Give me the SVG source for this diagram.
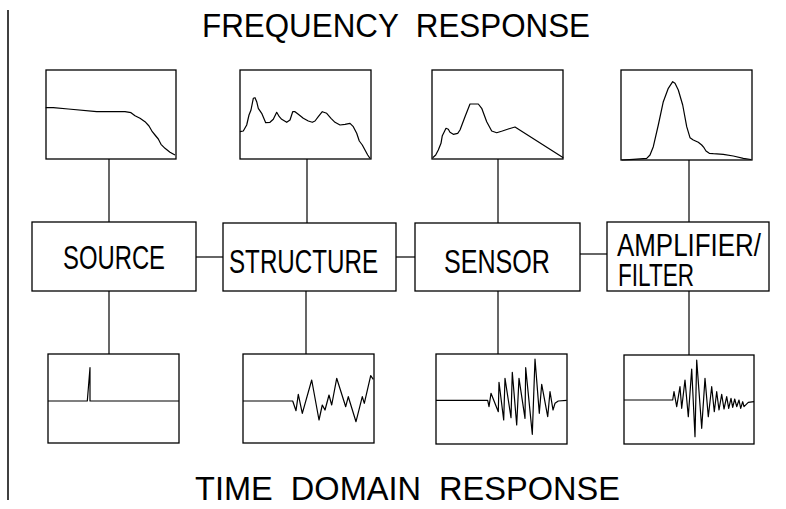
<svg xmlns="http://www.w3.org/2000/svg" width="786" height="509" viewBox="0 0 786 509">
<style>
.box{fill:#fff;stroke:#000;stroke-width:1.3}
.plot{fill:#fff;stroke:#000;stroke-width:1.3}
.curve{fill:none;stroke:#000;stroke-width:1.2;stroke-linejoin:round}
.conn{fill:none;stroke:#000;stroke-width:1.2}
.lbl{font-family:"Liberation Sans",Arial,sans-serif;font-size:33px;fill:#000}
.lbl2{font-family:"Liberation Sans",Arial,sans-serif;font-size:31px;fill:#000}
.title{font-family:"Liberation Sans",Arial,sans-serif;font-size:34px;fill:#000}
</style>
<line x1="8" y1="10" x2="8" y2="500" stroke="#000" stroke-width="1.5"/>
<text class="title" x="202" y="37" textLength="388" lengthAdjust="spacingAndGlyphs" xml:space="preserve">FREQUENCY  RESPONSE</text>
<text class="title" x="195" y="500" textLength="425" lengthAdjust="spacingAndGlyphs" xml:space="preserve">TIME  DOMAIN  RESPONSE</text>
<g id="connectors">
<line class="conn" x1="109" y1="159" x2="109" y2="222"/>
<line class="conn" x1="307" y1="159" x2="307" y2="223"/>
<line class="conn" x1="498" y1="159" x2="498" y2="223"/>
<line class="conn" x1="689" y1="160" x2="689" y2="222"/>
<line class="conn" x1="109" y1="291" x2="109" y2="354"/>
<line class="conn" x1="306" y1="291" x2="306" y2="354"/>
<line class="conn" x1="498" y1="291" x2="498" y2="354"/>
<line class="conn" x1="689" y1="291" x2="689" y2="355"/>
<line class="conn" x1="196" y1="257" x2="223" y2="257"/>
<line class="conn" x1="396" y1="257" x2="415" y2="257"/>
<line class="conn" x1="580" y1="254" x2="607" y2="254"/>
</g>
<g id="source">
<rect class="box" x="32" y="222" width="164" height="69"/>
<text class="lbl" x="63" y="269" textLength="102" lengthAdjust="spacingAndGlyphs">SOURCE</text>
</g>
<g id="structure">
<rect class="box" x="223" y="223" width="173" height="68"/>
<text class="lbl" x="229" y="273" textLength="149" lengthAdjust="spacingAndGlyphs">STRUCTURE</text>
</g>
<g id="sensor">
<rect class="box" x="415" y="223" width="165" height="68"/>
<text class="lbl" x="444" y="273" textLength="106" lengthAdjust="spacingAndGlyphs">SENSOR</text>
</g>
<g id="amplifier">
<rect class="box" x="607" y="222" width="162" height="69"/>
<text class="lbl2" x="617" y="256" textLength="144" lengthAdjust="spacingAndGlyphs">AMPLIFIER/</text>
<text class="lbl2" x="618" y="286" textLength="76" lengthAdjust="spacingAndGlyphs">FILTER</text>
</g>
<g id="freq-source">
<rect class="plot" x="46" y="70" width="130" height="89"/>
<polyline class="curve" points="45.7,107.7 53.3,107.7 68.3,109 96.7,111.7 103.3,111.7 125,111.7 131,112.7 135,115.7 140,118.3 145,121.7 149,126 152.3,131.7 155,135 158.3,139 161,144.3 165,148.3 170,152.3 175,155"/>
</g>
<g id="freq-structure">
<rect class="plot" x="240" y="70" width="131" height="89"/>
<polyline class="curve" points="240,131.7 243.3,131 246.7,125 249,115 251,110 253.3,98.3 255,97.7 256.7,101.7 258.3,108.3 261.7,113.3 265.7,122.7 270,122.3 273.3,119.3 276.7,112.3 279.3,116.7 281.7,119.3 286.7,122.3 290,120 292.7,111.7 295,111.7 298.3,114.3 303.3,118.3 308.3,121 312.3,122.3 315,121 318.3,116.7 322.3,111.7 326.7,113.3 331,118.3 335,122.3 340,125 345,124.3 350,123.3 353.3,126.7 356.7,133.3 359.3,141 362.3,145 365,150 367.7,155 370,158.3"/>
</g>
<g id="freq-sensor">
<rect class="plot" x="432" y="70" width="131" height="89"/>
<polyline class="curve" points="432.7,157.7 435.7,155 438.3,150 441,143.3 442.3,135.7 444.3,131.7 446,128.3 448.3,129.3 450,132.3 453.3,134.3 457.7,133.3 460,130 465,116.7 470,104 478.3,104 481.7,108.3 486.7,121.7 491.7,131 496.7,132.7 502.3,131 508.3,129 515,127 563.3,157.7"/>
</g>
<g id="freq-amplifier">
<rect class="plot" x="621" y="70" width="131" height="90"/>
<polyline class="curve" points="621.7,160 633.3,159.3 646.7,158.3 650,155 653.3,146.7 658.3,125 663.3,101.7 668.3,88.3 672.7,81.7 675,83.3 678.3,90 682.7,105 686.7,126.7 690,137.7 693.3,140 698.3,142.3 701.7,145 704,147.7 706,151 709.3,153.3 713.3,153.7 723.3,154.3 733.3,156 743.3,158.3 751,159.5"/>
</g>
<g id="time-source">
<rect class="plot" x="48" y="354" width="131" height="89"/>
<polyline class="curve" points="48,401 87.3,401 90,367.7 90,401 179,401"/>
</g>
<g id="time-structure">
<rect class="plot" x="243" y="354" width="131" height="89"/>
<polyline class="curve" points="243,401 292.7,401 296,410.7 298.3,394.3 302.3,413.3 311.7,380 319,420 322.3,405 325,410 329,395 331.7,405 336.7,378.3 345.7,406.7 348.3,396.7 356,421.7 362.3,396.7 364.3,403.3 370.7,375.7 373.3,379.3"/>
</g>
<g id="time-sensor">
<rect class="plot" x="436" y="354" width="131" height="90"/>
<polyline class="curve" points="436,400.3 487.7,400.3 489,406.7 491,393.3 498.3,411.7 499,382.3 503.7,420 505,378.3 511,417.7 512.3,372.3 516.7,425 519,378.3 525,418.3 525.7,367.7 532.3,434.3 535,359 539.3,413.3 541.7,384.3 547.7,416.7 550,391.7 553,410 555,403.3 558.3,401 566.7,400.3"/>
</g>
<g id="time-amplifier">
<rect class="plot" x="624" y="355" width="130" height="89"/>
<polyline class="curve" points="624,400 672.7,400 674,391.7 676.7,406.7 680,386.7 681.7,408.3 685,380 688.3,416.7 691.7,369 695,436.7 696.7,360 701.7,428.3 705,378.3 708.3,416.7 711.7,386.7 714.3,411.7 716.7,391.7 719,410 721.7,394.3 724,409 726.7,396.7 728.7,408.3 731,398.3 732.7,407.3 734.7,399 736.7,406.7 739,400 740.7,408.3 742.7,401.7 744,406.7 748.3,402.3 754,401.7"/>
</g>
</svg>
